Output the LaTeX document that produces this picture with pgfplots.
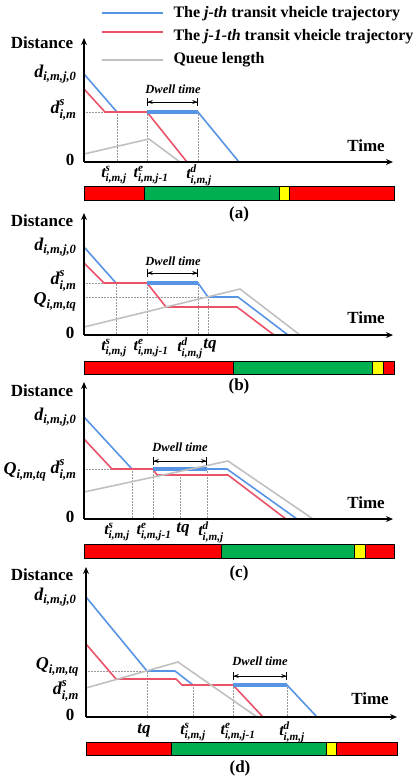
\documentclass[border=0pt]{standalone}
\usepackage{pgfplots}
\pgfplotsset{compat=1.18}
\usepackage{amsmath}
\usepackage{fontspec}
\setmainfont{Liberation Serif}
\usetikzlibrary{arrows.meta}
\definecolor{blueL}{RGB}{88,148,228}
\definecolor{redL}{RGB}{234,82,104}
\definecolor{grayL}{RGB}{192,192,192}
\definecolor{sRed}{RGB}{255,0,0}
\definecolor{sGreen}{RGB}{0,176,80}
\definecolor{sYellow}{RGB}{255,255,0}
\newcommand{\bi}{\bfseries\itshape}
\newcommand{\LL}[3]{{\bi$\text{#1}^{\text{#2}}_{\text{#3}}$}}
\newcommand{\LS}[2]{{\bi$\text{#1}_{\text{#2}}$}}
\newcommand{\fs}[1]{\fontsize{#1}{#1}\selectfont}
\tikzset{
  thin line/.style={line width=1.6pt}, thick line/.style={line width=4.5pt},
  dotl/.style={densely dotted, gray!80, line width=0.5pt},
  bar/.style={draw=black, line width=0.7pt},
  axl/.style={-{Stealth[length=7pt,width=6pt]}, line width=1.2pt},
  tk/.style={font=\fs{16}, inner sep=0pt},
  dw/.style={{Bar[width=8pt]Stealth[length=5pt,width=4pt]}-{Stealth[length=5pt,width=4pt]Bar[width=8pt]}, line width=0.7pt}}
\begin{document}
\begin{tikzpicture}
\begin{axis}[scale only axis, width=416pt, height=780pt,
  xmin=0, xmax=416, ymin=0, ymax=780, y dir=reverse, hide axis, clip=false, no markers]
% ---------- legend ----------
\addplot[blueL, thin line] coordinates {(102,13)(163,13)};
\addplot[redL, thin line] coordinates {(102,32)(163,32)};
\addplot[grayL, thin line] coordinates {(102,60)(163,60)};
\node[anchor=west, font=\fs{16}\bfseries] at (axis cs:170,14) {The \textit{j-th} transit vheicle trajectory};
\node[anchor=west, font=\fs{16}\bfseries] at (axis cs:170,37) {The \textit{j-1-th} transit vheicle trajectory};
\node[anchor=west, font=\fs{16}\bfseries] at (axis cs:170,60) {Queue length};
% ---------- panel (a) ----------
\addplot[dotl] coordinates {(84,112)(117,112)};
\addplot[dotl] coordinates {(117,162)(117,112)};
\addplot[dotl] coordinates {(147,162)(147,112)};
\addplot[dotl] coordinates {(198,162)(198,112)};
\addplot[blueL, thin line] coordinates {(84,74)(117,112)(147,112)(198,112)(239,162)};
\addplot[redL, thin line] coordinates {(84,89)(105,112)(147,112)(187,162)};
\addplot[grayL, thin line] coordinates {(84,154)(149,139)(180,162)};
\addplot[blueL, thick line] coordinates {(147,112)(198,112)};
\draw[axl] (axis cs:84,162) -- (axis cs:393,162);
\draw[axl] (axis cs:84,162) -- (axis cs:84,38);
\draw[dw] (axis cs:147,102) -- (axis cs:198,102);
\node[font=\fs{12.5}\bi] at (axis cs:173,89) {Dwell time};
\node[font=\fs{17}\bfseries] at (axis cs:42,43) {Distance};
\node[font=\fs{17}\bfseries] at (axis cs:366,146) {Time};
\node[anchor=east, font=\fs{18}] at (axis cs:80,74) {\LS{d}{i,m,j,0}};
\node[anchor=east, font=\fs{18}] at (axis cs:80,110) {\LL{d}{s}{i,m}};
\node[anchor=east, font=\fs{17}\bfseries] at (axis cs:78,160) {0};
\node[tk] at (axis cs:114,175) {\LL{t}{s}{i,m,j}};
\node[tk] at (axis cs:151,175) {\LL{t}{e}{i,m,j-1}};
\node[tk] at (axis cs:199,175) {\LL{t}{d}{i,m,j}};
\addplot[bar, fill=sRed] coordinates {(84,186)(144,186)(144,200)(84,200)} --cycle;
\addplot[bar, fill=sGreen] coordinates {(144,186)(279,186)(279,200)(144,200)} --cycle;
\addplot[bar, fill=sYellow] coordinates {(279,186)(289,186)(289,200)(279,200)} --cycle;
\addplot[bar, fill=sRed] coordinates {(289,186)(394,186)(394,200)(289,200)} --cycle;
\node[font=\fs{17}\bfseries] at (axis cs:239,214) {(a)};
% ---------- panel (b) ----------
\addplot[dotl] coordinates {(84,283)(116,283)};
\addplot[dotl] coordinates {(84,297)(208,297)};
\addplot[dotl] coordinates {(116,335)(116,283)};
\addplot[dotl] coordinates {(147,335)(147,283)};
\addplot[dotl] coordinates {(198,335)(198,283)};
\addplot[dotl] coordinates {(208,335)(208,297)};
\addplot[blueL, thin line] coordinates {(84,247)(116,283)(147,283)(198,283)(208,297)(238,297)(288,335)};
\addplot[redL, thin line] coordinates {(84,263)(104,283)(147,283)(166,307)(237,307)(274,335)};
\addplot[grayL, thin line] coordinates {(84,327)(240,289)(300,335)};
\addplot[blueL, thick line] coordinates {(147,283)(198,283)};
\draw[axl] (axis cs:84,335) -- (axis cs:393,335);
\draw[axl] (axis cs:84,335) -- (axis cs:84,213);
\draw[dw] (axis cs:147,273) -- (axis cs:198,273);
\node[font=\fs{12.5}\bi] at (axis cs:173,261) {Dwell time};
\node[font=\fs{17}\bfseries] at (axis cs:42,221) {Distance};
\node[font=\fs{17}\bfseries] at (axis cs:366,318) {Time};
\node[anchor=east, font=\fs{18}] at (axis cs:80,247) {\LS{d}{i,m,j,0}};
\node[anchor=east, font=\fs{18}] at (axis cs:80,281) {\LL{d}{s}{i,m}};
\node[anchor=east, font=\fs{18}] at (axis cs:80,302) {\LS{Q}{i,m,tq}};
\node[anchor=east, font=\fs{17}\bfseries] at (axis cs:78,333) {0};
\node[tk] at (axis cs:114,348) {\LL{t}{s}{i,m,j}};
\node[tk] at (axis cs:151,348) {\LL{t}{e}{i,m,j-1}};
\node[tk] at (axis cs:190,348) {\LL{t}{d}{i,m,j}};
\node[font=\fs{17}\bi, inner sep=0pt] at (axis cs:210,346) {tq};
\addplot[bar, fill=sRed] coordinates {(84,361)(233,361)(233,374)(84,374)} --cycle;
\addplot[bar, fill=sGreen] coordinates {(233,361)(372,361)(372,374)(233,374)} --cycle;
\addplot[bar, fill=sYellow] coordinates {(372,361)(383,361)(383,374)(372,374)} --cycle;
\addplot[bar, fill=sRed] coordinates {(383,361)(394,361)(394,374)(383,374)} --cycle;
\node[font=\fs{17}\bfseries] at (axis cs:239,386) {(b)};
% ---------- panel (c) ----------
\addplot[dotl] coordinates {(84,469)(132,469)};
\addplot[dotl] coordinates {(132,519)(132,469)};
\addplot[dotl] coordinates {(153,519)(153,469)};
\addplot[dotl] coordinates {(180,519)(180,475)};
\addplot[dotl] coordinates {(207,519)(207,469)};
\addplot[blueL, thin line] coordinates {(84,417)(132,469)(153,469)(207,469)(227,469)(297,519)};
\addplot[redL, thin line] coordinates {(84,439)(112,469)(153,469)(157,475)(228,475)(286,519)};
\addplot[blueL, thick line] coordinates {(153,469)(207,469)};
\addplot[grayL, thin line] coordinates {(84,492)(228,461)(313,519)};
\draw[axl] (axis cs:84,519) -- (axis cs:393,519);
\draw[axl] (axis cs:84,519) -- (axis cs:84,382);
\draw[dw] (axis cs:153,461) -- (axis cs:207,461);
\node[font=\fs{12.5}\bi] at (axis cs:180,447) {Dwell time};
\node[font=\fs{17}\bfseries] at (axis cs:42,391) {Distance};
\node[font=\fs{17}\bfseries] at (axis cs:366,503) {Time};
\node[anchor=east, font=\fs{18}] at (axis cs:80,417) {\LS{d}{i,m,j,0}};
\node[anchor=east, font=\fs{18}] at (axis cs:80,470) {\LL{d}{s}{i,m}};
\node[anchor=east, font=\fs{18}] at (axis cs:50,472) {\LS{Q}{i,m,tq}};
\node[anchor=east, font=\fs{17}\bfseries] at (axis cs:78,517) {0};
\node[tk] at (axis cs:117,532) {\LL{t}{s}{i,m,j}};
\node[tk] at (axis cs:154,532) {\LL{t}{e}{i,m,j-1}};
\node[font=\fs{17}\bi, inner sep=0pt] at (axis cs:183,530) {tq};
\node[tk] at (axis cs:211,532) {\LL{t}{d}{i,m,j}};
\addplot[bar, fill=sRed] coordinates {(84,544)(221,544)(221,558)(84,558)} --cycle;
\addplot[bar, fill=sGreen] coordinates {(221,544)(354,544)(354,558)(221,558)} --cycle;
\addplot[bar, fill=sYellow] coordinates {(354,544)(365,544)(365,558)(354,558)} --cycle;
\addplot[bar, fill=sRed] coordinates {(365,544)(394,544)(394,558)(365,558)} --cycle;
\node[font=\fs{17}\bfseries] at (axis cs:239,573) {(c)};
% ---------- panel (d) ----------
\addplot[dotl] coordinates {(86,671)(147,671)};
\addplot[dotl] coordinates {(147,717)(147,671)};
\addplot[dotl] coordinates {(193,717)(193,685)};
\addplot[dotl] coordinates {(233,717)(233,685)};
\addplot[dotl] coordinates {(287,717)(287,685)};
\addplot[blueL, thin line] coordinates {(86,597)(147,671)(175,671)(193,685)(233,685)(287,685)(317,717)};
\addplot[redL, thin line] coordinates {(86,644)(116,679)(176,679)(182,685)(233,685)(263,717)};
\addplot[grayL, thin line] coordinates {(86,688)(178,662)(257,717)};
\addplot[blueL, thick line] coordinates {(233,685)(287,685)};
\draw[axl] (axis cs:86,717) -- (axis cs:397,717);
\draw[axl] (axis cs:86,717) -- (axis cs:86,567);
\draw[dw] (axis cs:233,676) -- (axis cs:287,676);
\node[font=\fs{12.5}\bi] at (axis cs:260,661) {Dwell time};
\node[font=\fs{17}\bfseries] at (axis cs:42,575) {Distance};
\node[font=\fs{17}\bfseries] at (axis cs:370,699) {Time};
\node[anchor=east, font=\fs{18}] at (axis cs:80,597) {\LS{d}{i,m,j,0}};
\node[anchor=east, font=\fs{18}, inner sep=1pt] at (axis cs:80,667) {\LS{Q}{i,m,tq}};
\node[anchor=east, font=\fs{18}, inner sep=1pt] at (axis cs:80,691) {\LL{d}{s}{i,m}};
\node[anchor=east, font=\fs{17}\bfseries] at (axis cs:78,715) {0};
\node[font=\fs{17}\bi, inner sep=0pt] at (axis cs:144,731) {tq};
\node[tk] at (axis cs:193,732) {\LL{t}{s}{i,m,j}};
\node[tk] at (axis cs:238,732) {\LL{t}{e}{i,m,j-1}};
\node[tk] at (axis cs:292,732) {\LL{t}{d}{i,m,j}};
\addplot[bar, fill=sRed] coordinates {(86,742)(171,742)(171,755)(86,755)} --cycle;
\addplot[bar, fill=sGreen] coordinates {(171,742)(326,742)(326,755)(171,755)} --cycle;
\addplot[bar, fill=sYellow] coordinates {(326,742)(336,742)(336,755)(326,755)} --cycle;
\addplot[bar, fill=sRed] coordinates {(336,742)(397,742)(397,755)(336,755)} --cycle;
\node[font=\fs{17}\bfseries] at (axis cs:240,768) {(d)};
\end{axis}
\pgfresetboundingbox
\path (0,0) rectangle (416pt,780pt);
\end{tikzpicture}
\end{document}
